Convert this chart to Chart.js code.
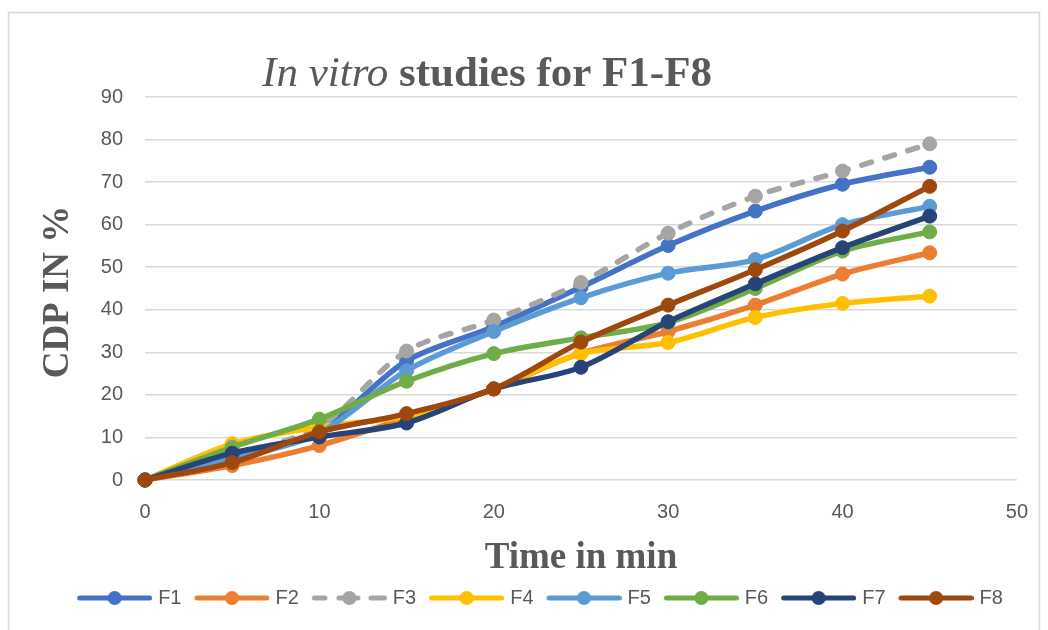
<!DOCTYPE html>
<html>
<head>
<meta charset="utf-8">
<title>In vitro studies for F1-F8</title>
<script src="https://cdn.jsdelivr.net/npm/chart.js@4.4.1/dist/chart.umd.min.js"></script>
<style>
    html, body { margin: 0; padding: 0; background: #fff; }
    #wrap { position: relative; width: 1048px; height: 630px; }
</style>
</head>
<body>
<div id="wrap"><canvas id="chart" width="1048" height="630"></canvas></div>
<script>
// Sampling times (min)
const times = [0, 5, 10, 15, 20, 25, 30, 35, 40, 45];

// Cumulative drug release (%) per formulation
const f1 = [0, 5.5, 11.5, 28.0, 36.0, 45.3, 55.1, 63.2, 69.5, 73.5];
const f2 = [0, 3.4, 8.1, 14.6, 21.4, 29.8, 34.9, 41.1, 48.4, 53.4];
const f3 = [0, 5.8, 12.5, 30.3, 37.6, 46.4, 58.0, 66.7, 72.6, 79.0];
const f4 = [0, 8.5, 12.5, 15.0, 21.4, 29.7, 32.3, 38.2, 41.5, 43.2];
const f5 = [0, 5.0, 11.0, 25.7, 34.9, 42.8, 48.6, 51.8, 60.0, 64.3];
const f6 = [0, 7.7, 14.3, 23.2, 29.7, 33.4, 37.0, 45.0, 53.8, 58.3];
const f7 = [0, 6.3, 10.1, 13.4, 21.4, 26.5, 37.2, 46.1, 54.6, 62.0];
const f8 = [0, 4.1, 11.3, 15.6, 21.4, 32.4, 41.1, 49.4, 58.5, 69.0];

const seriesNames = ['F1', 'F2', 'F3', 'F4', 'F5', 'F6', 'F7', 'F8'];
const seriesValues = [f1, f2, f3, f4, f5, f6, f7, f8];
const seriesColors = ['#4472C4', '#ED7D31', '#A5A5A5', '#FFC000', '#5B9BD5', '#70AD47', '#264478', '#9E480E'];

const xTicks = [0, 10, 20, 30, 40, 50];
const yTicks = [0, 10, 20, 30, 40, 50, 60, 70, 80, 90];

const chartTitleItalic = 'In vitro';
const chartTitleBold = 'studies for F1-F8';
const xTitle = 'Time in min';
const yTitle = 'CDP IN %';

const textGrey = '#595959';
const tickFont = { family: "'Liberation Sans', Arial, sans-serif", size: 20 };

// line + dot picture for the legend; a bit wider than the legend box so
// the line runs up close to the label text
const legendIcon = (color, dashed) => {
    const c = document.createElement('canvas');
    c.width = 79;
    c.height = 18;
    const g = c.getContext('2d');
    g.strokeStyle = color;
    g.fillStyle = color;
    g.lineWidth = 5;
    g.lineCap = 'round';
    const segs = dashed ? [[6.5, 17], [31, 50], [63, 76.5]] : [[6.5, 76.5]];
    segs.forEach(s => {
        g.beginPath();
        g.moveTo(s[0], 9);
        g.lineTo(s[1], 9);
        g.stroke();
    });
    g.beginPath();
    g.arc(41.5, 9, 7, 0, Math.PI * 2);
    g.fill();
    return c;
};

const datasets = seriesNames.map((name, i) => ({
    label: name,
    data: times.map((t, j) => ({ x: t, y: seriesValues[i][j] })),
    borderColor: seriesColors[i],
    backgroundColor: seriesColors[i],
    pointBackgroundColor: seriesColors[i],
    pointBorderColor: seriesColors[i],
    borderWidth: 5.5,
    pointRadius: 7,
    pointBorderWidth: 1,
    tension: 0.3,
    borderDash: name === 'F3' ? [10, 14] : [],
    borderCapStyle: name === 'F3' ? 'round' : 'butt',
    clip: false,
    order: seriesNames.length - i   // later series drawn on top, like Excel
}));

const decorPlugin = {
    id: 'decor',
    beforeDraw(chart) {
        const ctx = chart.ctx;
        ctx.save();
        ctx.fillStyle = '#fff';
        ctx.fillRect(0, 0, chart.width, chart.height);
        ctx.strokeStyle = '#d9d9d9';
        ctx.lineWidth = 1.5;
        ctx.strokeRect(8.5, 12.5, 1031, 640);
        ctx.restore();
    },
    afterDraw(chart) {
        const ctx = chart.ctx;
        const area = chart.chartArea;
        const serif = '"Liberation Serif", "Times New Roman", serif';
        ctx.save();
        ctx.fillStyle = textGrey;
        ctx.textBaseline = 'alphabetic';

        // main title: italic part + bold part
        ctx.font = 'italic 43px ' + serif;
        const part1 = chartTitleItalic + ' ';
        const w1 = ctx.measureText(part1).width;
        ctx.font = 'bold 43px ' + serif;
        const w2 = ctx.measureText(chartTitleBold).width;
        const x0 = 487 - (w1 + w2) / 2;
        ctx.textAlign = 'left';
        ctx.font = 'italic 43px ' + serif;
        ctx.fillText(part1, x0, 86);
        ctx.font = 'bold 43px ' + serif;
        ctx.fillText(chartTitleBold, x0 + w1, 86);

        // x axis title
        ctx.textAlign = 'center';
        ctx.font = 'bold 37px ' + serif;
        ctx.fillText(xTitle, (area.left + area.right) / 2, 568);

        // y axis title
        ctx.font = 'bold 37px ' + serif;
        ctx.translate(68, 292);
        ctx.rotate(-Math.PI / 2);
        ctx.fillText(yTitle, 0, 0);
        ctx.restore();
    }
};

const ctx = document.getElementById('chart').getContext('2d');
new Chart(ctx, {
    type: 'line',
    data: { datasets: datasets },
    plugins: [decorPlugin],
    options: {
        responsive: false,
        animation: false,
        layout: {
            padding: { top: 97, left: 60, right: 28, bottom: 12 }
        },
        scales: {
            x: {
                type: 'linear',
                min: 0,
                max: 50,
                afterBuildTicks: (scale) => { scale.ticks = xTicks.map(v => ({ value: v })); },
                afterFit: (scale) => { scale.height = 95; },
                grid: { display: false, drawTicks: false },
                border: { display: false },
                ticks: { color: textGrey, font: tickFont, padding: 20 }
            },
            y: {
                min: 0,
                max: 90,
                afterBuildTicks: (scale) => { scale.ticks = yTicks.map(v => ({ value: v })); },
                afterFit: (scale) => { scale.width = 85; },
                grid: { color: '#d9d9d9', lineWidth: 1.5, drawTicks: false },
                border: { display: false },
                ticks: { color: textGrey, font: tickFont, padding: 22 }
            }
        },
        plugins: {
            title: { display: false },
            tooltip: { enabled: false },
            legend: {
                position: 'bottom',
                align: 'center',
                labels: {
                    usePointStyle: true,
                    pointStyleWidth: 71,
                    padding: 13,
                    color: textGrey,
                    font: tickFont,
                    generateLabels: (chart) => chart.data.datasets.map((ds, i) => ({
                        text: ds.label,
                        fontColor: textGrey,
                        pointStyle: legendIcon(seriesColors[i], ds.label === 'F3'),
                        datasetIndex: i,
                        hidden: false,
                        lineWidth: 0
                    }))
                }
            }
        }
    }
});
</script>
</body>
</html>
